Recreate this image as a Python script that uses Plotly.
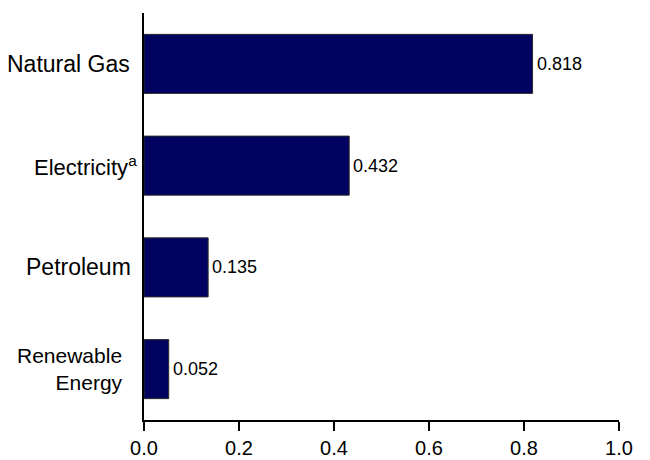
import plotly.graph_objects as go

categories = ["Natural Gas", "Electricity", "Petroleum", "Renewable Energy"]
label_texts = ["Natural Gas", "Electricity<sup>a</sup>", "Petroleum", "Renewable<br>Energy"]
label_sizes = [23, 22, 23, 21]
label_shift = [-12, -5, -11, -19]
values = [0.818, 0.432, 0.135, 0.052]
value_labels = ["0.818", "0.432", "0.135", "0.052"]
x_ticks = [0.0, 0.2, 0.4, 0.6, 0.8, 1.0]
x_ticktext = ["0.0", "0.2", "0.4", "0.6", "0.8", "1.0"]

FONT = "Liberation Sans, Arial, sans-serif"

fig = go.Figure()
fig.add_trace(go.Bar(
    x=values, y=categories, orientation="h",
    marker=dict(color="#020260", line=dict(color="#2a2a2a", width=1)),
    hoverinfo="skip",
))

annotations = []
for cat, txt, sz, sh in zip(categories, label_texts, label_sizes, label_shift):
    annotations.append(dict(
        x=0, xref="paper", y=cat, yref="y", text=txt, showarrow=False,
        xanchor="right", yanchor="middle", xshift=sh, align="right",
        font=dict(family=FONT, size=sz, color="black"),
    ))
for cat, v, t in zip(categories, values, value_labels):
    annotations.append(dict(
        x=v, xref="x", y=cat, yref="y", text=t, showarrow=False,
        xanchor="left", yanchor="middle", xshift=2,
        font=dict(family=FONT, size=18, color="black"),
    ))

fig.update_layout(
    width=650, height=460,
    margin=dict(l=144, r=31, t=13, b=40),
    paper_bgcolor="white", plot_bgcolor="white",
    showlegend=False, bargap=0.42,
    font=dict(family=FONT, color="black"),
    annotations=annotations,
    xaxis=dict(
        range=[0, 1], tickvals=x_ticks, ticktext=x_ticktext,
        showline=True, linecolor="black", linewidth=2,
        ticks="outside", ticklen=9, tickwidth=2, tickcolor="black",
        showgrid=False, zeroline=False, automargin=False,
        tickfont=dict(family=FONT, size=20, color="black"),
    ),
    yaxis=dict(
        categoryorder="array", categoryarray=categories,
        range=[3.5, -0.5],
        showline=True, linecolor="black", linewidth=2,
        showticklabels=False, ticks="", showgrid=False, zeroline=False,
        automargin=False,
    ),
)

fig.write_html(
    "out.html",
    config={"displayModeBar": False},
    post_script="document.body.style.margin='0';document.body.style.overflow='hidden';",
)
